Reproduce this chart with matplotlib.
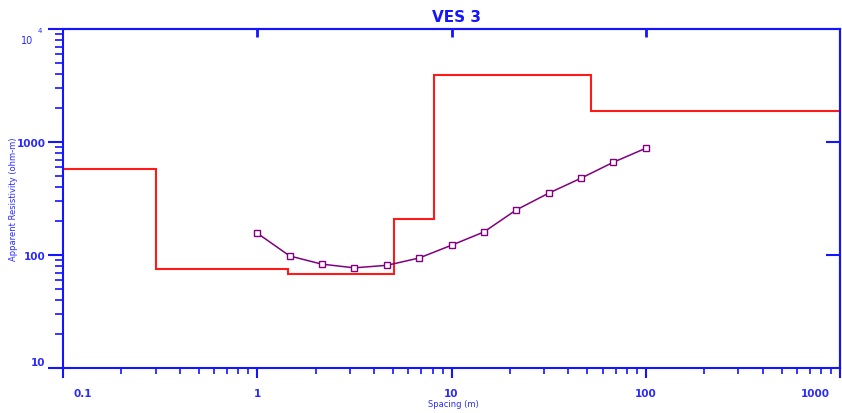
import matplotlib
matplotlib.use("Agg")
import matplotlib.pyplot as plt
from matplotlib.transforms import ScaledTranslation
import numpy as np

# ---- data ----
spacing = [1.0, 1.47, 2.15, 3.16, 4.64, 6.81, 10.0, 14.7, 21.5, 31.6, 46.4, 68.1, 100.0]
app_res = [156, 98, 83, 77, 81, 94, 122, 160, 250, 352, 478, 662, 880]

layer_edges = [0.1, 0.3, 1.44, 5.04, 8.09, 52.2, 1000]
layer_res = [580, 75, 68, 208, 3880, 1866]

x_ticks = [0.1, 1, 10, 100, 1000]
x_ticklabels = ["0.1", "1", "10", "100", "1000"]
y_ticks = [10, 100, 1000, 10000]
y_ticklabels = ["10", "100", "1000", ""]

title = "VES 3"
xlabel = "Spacing (m)"
ylabel = "Apparent Resistivity (ohm-m)"

BLUE = "#1414ff"
TXT = "#2a2aff"
RED = "#ff1a1a"
PURPLE = "#800080"

fig = plt.figure(figsize=(8.42, 4.14), dpi=100)
W, H = 842, 414
ax = fig.add_axes([63 / W, 45 / H, (840 - 63) / W, (384 - 45) / H])

ax.set_xscale("log")
ax.set_yscale("log")
ax.set_xlim(0.1, 1000)
ax.set_ylim(10, 10000)

ax.stairs(layer_res, layer_edges, color=RED, lw=1.5, baseline=None, zorder=2)
ax.plot(spacing, app_res, color=PURPLE, lw=1.1, marker="s", ms=4.5,
        mfc="white", mec=PURPLE, mew=1.0, zorder=3)

for s in ax.spines.values():
    s.set_color(BLUE)
    s.set_linewidth(1.5)

ax.set_xticks(x_ticks)
ax.set_xticklabels(x_ticklabels)
ax.set_yticks(y_ticks)
ax.set_yticklabels(y_ticklabels)

ax.tick_params(axis="x", which="major", direction="out", length=7.5, width=1.5,
               color=BLUE, labelcolor=TXT, labelsize=7.5, pad=7)
ax.tick_params(axis="x", which="minor", direction="out", length=4, width=1.2,
               color=BLUE)
ax.tick_params(axis="y", which="major", direction="out", length=11, width=1.5,
               color=BLUE, labelcolor=TXT, labelsize=7.5, pad=1.5)
ax.tick_params(axis="y", which="minor", direction="out", length=6, width=1.2,
               color=BLUE)
for lab in ax.get_xticklabels() + ax.get_yticklabels():
    lab.set_fontweight("bold")

# shift edge tick labels
xl = ax.get_xticklabels()
xl[0].set_transform(xl[0].get_transform() + ScaledTranslation(20 / 100, 0, fig.dpi_scale_trans))
xl[-1].set_transform(xl[-1].get_transform() + ScaledTranslation(-25 / 100, 0, fig.dpi_scale_trans))
yl = ax.get_yticklabels()
yl[0].set_transform(yl[0].get_transform() + ScaledTranslation(0, 7 / 100, fig.dpi_scale_trans))

# 10^4 label
ax.text((33 - 63) / 777, 1 - 6 / 339, "10", transform=ax.transAxes, ha="right", va="top",
        color=TXT, fontsize=7)
ax.text((42 - 63) / 777, 1 + 2 / 339, "4", transform=ax.transAxes, ha="right", va="top",
        color=TXT, fontsize=5)

# top and right inward ticks
top = ax.secondary_xaxis("top")
top.set_xticks([1, 10, 100])
top.set_xticklabels([])
top.xaxis.set_minor_locator(matplotlib.ticker.NullLocator())
top.tick_params(direction="in", length=6, width=2, color=BLUE)
top.spines["top"].set_color(BLUE)
top.spines["top"].set_linewidth(1.5)

right = ax.secondary_yaxis("right")
right.set_yticks([100, 1000])
right.set_yticklabels([])
right.yaxis.set_minor_locator(matplotlib.ticker.NullLocator())
right.tick_params(direction="in", length=10, width=1.5, color=BLUE)
right.spines["right"].set_color(BLUE)
right.spines["right"].set_linewidth(1.5)

fig.text(457 / W, 1 - 18 / H, title, ha="center", va="center", color=BLUE,
         fontsize=11, fontweight="bold")
fig.text(453 / W, 1 - 405 / H, xlabel, ha="center", va="center", color=TXT,
         fontsize=6)
fig.text(14 / W, 1 - 199 / H, ylabel, ha="center", va="center", color=TXT,
         fontsize=6, rotation=90)

fig.savefig("out.png", dpi=100)
